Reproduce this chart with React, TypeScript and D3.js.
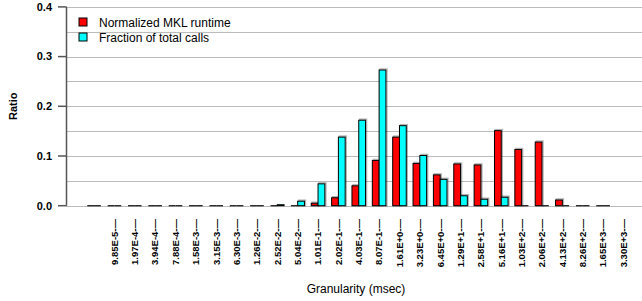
import * as d3 from 'd3'

const W = 642
const H = 301
const FONT = '"Liberation Sans", Arial, Helvetica, sans-serif'

// granularity bins (msec); first bin has no label, last bin has no data
const categories = [
  '', '9.85E-5', '1.97E-4', '3.94E-4', '7.88E-4', '1.58E-3', '3.15E-3', '6.30E-3',
  '1.26E-2', '2.52E-2', '5.04E-2', '1.01E-1', '2.02E-1', '4.03E-1', '8.07E-1',
  '1.61E+0', '3.23E+0', '6.45E+0', '1.29E+1', '2.58E+1', '5.16E+1', '1.03E+2',
  '2.06E+2', '4.13E+2', '8.26E+2', '1.65E+3', '3.30E+3',
]

const runtime: (number | null)[] = [
  0, 0, 0, 0, 0, 0, 0, 0, 0, 0.001, 0.001, 0.005, 0.016, 0.04, 0.091, 0.138, 0.085,
  0.062, 0.084, 0.082, 0.151, 0.113, 0.128, 0.0115, 0, 0, null,
]

const calls: (number | null)[] = [
  0, 0, 0, 0, 0, 0, 0, 0, 0, 0.002, 0.009, 0.044, 0.138, 0.172, 0.273, 0.161, 0.101,
  0.053, 0.02, 0.013, 0.017, 0.001, 0.001, 0.001, 0, 0, null,
]

const yTicks = [0, 0.1, 0.2, 0.3, 0.4]
const gridVals = [0, 0.05, 0.1, 0.15, 0.2, 0.25, 0.3, 0.35, 0.4]

const series = [
  { name: 'Normalized MKL runtime', color: '#ff0000', values: runtime },
  { name: 'Fraction of total calls', color: '#00ffff', values: calls },
]

const AXIS_X = 66.5

export default function App() {
  const x = d3
    .scaleBand<string>()
    .domain(categories.map((_, i) => String(i)))
    .range([80.5, 637])
    .paddingInner(1 / 3)
    .paddingOuter(1 / 3)

  const y = d3.scaleLinear().domain([0, 0.4]).range([205.7, 6.9])
  const bw = x.bandwidth() / 2

  return (
    <svg
      width={W}
      height={H}
      style={{ position: 'absolute', left: 0, top: 0, background: '#fff' }}
      fontFamily={FONT}
    >
      {/* grid */}
      {gridVals.map((v) => (
        <line
          key={v}
          x1={AXIS_X}
          x2={W}
          y1={Math.round(y(v)) + 0.5}
          y2={Math.round(y(v)) + 0.5}
          stroke="#777"
          strokeWidth={1}
          strokeDasharray="1,1"
        />
      ))}

      {/* bars */}
      {categories.map((c, i) =>
        series.map((s, j) => {
          const v = s.values[i]
          if (v === null) return null
          const bx = (x(String(i)) ?? 0) + j * bw
          const by = y(v)
          const bh = y(0) - by
          if (bh < 0.5) {
            return (
              <line
                key={`${i}-${j}`}
                x1={bx}
                x2={bx + bw}
                y1={y(0)}
                y2={y(0)}
                stroke="#222"
                strokeWidth={1.3}
              />
            )
          }
          return (
            <g key={`${i}-${j}`}>
              {bh > 1.5 && (
                <rect
                  x={bx + 1}
                  y={by - 1}
                  width={bw}
                  height={bh + 1}
                  fill="none"
                  stroke="rgba(0,0,0,0.3)"
                  strokeWidth={1.5}
                />
              )}
              <rect
                x={bx}
                y={by}
                width={bw}
                height={bh}
                fill={s.color}
                stroke="#000"
                strokeWidth={1}
              />
            </g>
          )
        }),
      )}

      {/* y axis */}
      <line x1={AXIS_X} x2={AXIS_X} y1={y(0.4)} y2={y(0)} stroke="#555" strokeWidth={1.5} />
      {yTicks.map((t) => (
        <g key={t} transform={`translate(0,${y(t)})`}>
          <line x1={58} x2={AXIS_X} stroke="#555" strokeWidth={1.5} />
          <text
            x={52}
            dy="0.35em"
            textAnchor="end"
            fontSize={11}
            fontWeight="bold"
          >
            {t.toFixed(1)}
          </text>
        </g>
      ))}
      <text
        transform={`translate(17,${(y(0) + y(0.4)) / 2}) rotate(-90)`}
        textAnchor="middle"
        fontSize={11}
        fontWeight="bold"
      >
        Ratio
      </text>

      {/* x labels */}
      {categories.map((c, i) =>
        c ? (
          <text
            key={c}
            transform={`translate(${(x(String(i)) ?? 0) + x.bandwidth() / 2},219) rotate(-90)`}
            textAnchor="end"
            dy="0.35em"
            fontSize={9.5}
            fontWeight="bold"
          >
            {`${c}-—`}
          </text>
        ) : null,
      )}
      <text x={356} y={293} textAnchor="middle" fontSize={12}>
        Granularity (msec)
      </text>

      {/* legend */}
      {series.map((s, i) => (
        <g key={s.name} transform={`translate(0,${i * 15})`}>
          <rect x={79} y={18} width={8} height={8} fill={s.color} stroke="#000" strokeWidth={1} />
          <text x={99} y={26.5} fontSize={12}>
            {s.name}
          </text>
        </g>
      ))}
    </svg>
  )
}
